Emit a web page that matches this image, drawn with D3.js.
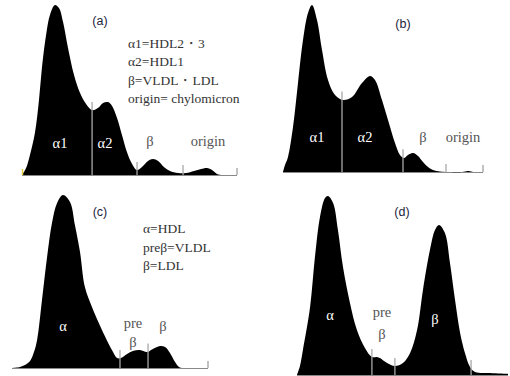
<!DOCTYPE html>
<html>
<head>
<meta charset="utf-8">
<script src="https://cdn.jsdelivr.net/npm/d3@7"></script>
<style>
body { margin: 0; background: #fff; }
</style>
</head>
<body>
<script>
/* Densitometry scans, mobility 0-100 (left = anode), density in % of tallest peak */

var aMobility = [0, 1.9, 3.7, 6.0, 7.9, 9.3, 11.2, 13.0, 15.3, 17.2, 19.1, 21.4, 24.2, 27.0, 29.8, 32.6, 35.3, 37.7, 40.0, 41.9, 44.2, 46.5, 48.8, 51.2, 53.5, 55.8, 58.6, 60.9, 63.3, 66.0, 68.8, 72.6, 76.3, 80.0, 83.3, 86.0, 88.4, 90.7, 93.0];
var aDensity  = [0, 4.1, 11.8, 24.7, 44.1, 63.5, 82.4, 94.1, 100, 98.2, 90, 74.7, 58.8, 48.2, 41.8, 38.2, 39.4, 42.4, 42.9, 40.6, 33.5, 23.5, 13.5, 6.5, 2.9, 4.7, 8.2, 9.4, 8.2, 4.7, 2.4, 1.2, 1.2, 2.4, 3.5, 4.1, 2.9, 0.6, 0];
var aDividers = [32.6, 53.5, 74.9];

var bMobility = [0, 1, 2.5, 5, 7.5, 10, 12.5, 14.5, 17, 19.5, 22.5, 26, 30, 34.5, 39.5, 43.5, 46, 49.5, 52.5, 56, 58.5, 60.5, 62.5, 65, 67.5, 70, 72.5, 75, 78.5, 82, 89.5, 92.5, 95];
var bDensity  = [0, 4.2, 9.0, 26.9, 53.3, 79.0, 95.2, 100, 91.0, 73.1, 55.1, 46.1, 43.1, 44.9, 53.3, 57.5, 55.1, 43.1, 31.1, 17.4, 10.2, 8.4, 10.2, 11.4, 9.6, 6.0, 3.0, 1.2, 0.3, 0, 0, 0.6, 0];
var bDividers = [29.5, 60, 81.5];

var cMobility = [0, 4.1, 6.6, 9.2, 11.2, 12.8, 15.3, 17.9, 20.4, 23, 26, 29.6, 32.1, 34.7, 37.2, 40.8, 45.9, 51, 53.6, 55.6, 58.7, 61.7, 65.3, 68.9, 71.9, 75.5, 78.1, 80.6, 83.2, 85.2, 86.7];
var cDensity  = [0, 0.6, 1.7, 4.0, 9.2, 16.2, 39.3, 64.2, 83.8, 95.4, 100, 96.0, 82.7, 67.1, 46.8, 35.3, 22.0, 10.4, 5.8, 5.8, 8.1, 9.8, 10.4, 9.2, 11.0, 12.7, 12.1, 8.7, 3.5, 0.6, 0];
var cDividers = [55.1, 69.4];

var dMobility = [0, 1.4, 2.8, 6.2, 8.5, 10.9, 13.3, 14.7, 17.1, 19.4, 21.8, 25.1, 28.4, 32.2, 35.5, 37.9, 39.3, 42.7, 46.4, 50.2, 53.6, 56.9, 59.7, 63.0, 65.4, 67.3, 70.1, 72.5, 74.9, 77.3, 79.6, 82.0, 84.4, 91.5, 100];
var dDensity  = [0, 5.0, 14.0, 38.0, 65.9, 88.3, 98.9, 100, 96.1, 81.0, 60.3, 40.2, 25.1, 15.1, 10.1, 10.1, 9.5, 6.7, 5.0, 6.7, 12.3, 25.1, 47.5, 69.8, 81.0, 83.8, 79.3, 62.6, 41.9, 23.5, 12.3, 4.5, 1.7, 1.1, 0.6];
var dDividers = [35.5, 46.4, 82.5];

var aLegend = ["\u03b11=HDL2\u30fb3", "\u03b12=HDL1", "\u03b2=VLDL\u30fbLDL", "origin= chylomicron"];
var cLegend = ["\u03b1=HDL", "pre\u03b2=VLDL", "\u03b2=LDL"];


/* Layout */

var width = 510;
var height = 376;

var svg = d3.select("body").append("svg")
	.attr("width", width)
	.attr("height", height);

var panels = [
	{mob: aMobility, dens: aDensity, dividers: aDividers, xr: [22, 237], yr: [175, 5], endTick: true, startTick: true,
	 title: {t: "(a)", x: 100, y: 25},
	 legend: {lines: aLegend, x: 128, y: 48, step: 18.4},
	 labels: [
		{t: "\u03b11", x: 60, y: 148, c: "#fff"},
		{t: "\u03b12", x: 105, y: 148, c: "#fff"},
		{t: "\u03b2", x: 150, y: 146, c: "#555"},
		{t: "origin", x: 208, y: 146, c: "#555"}]},
	{mob: bMobility, dens: bDensity, dividers: bDividers, xr: [283, 483], yr: [172, 5], endTick: true,
	 title: {t: "(b)", x: 403, y: 28},
	 labels: [
		{t: "\u03b11", x: 317, y: 142, c: "#fff"},
		{t: "\u03b12", x: 365, y: 142, c: "#fff"},
		{t: "\u03b2", x: 423, y: 142, c: "#555"},
		{t: "origin", x: 463, y: 142, c: "#555"}]},
	{mob: cMobility, dens: cDensity, dividers: cDividers, xr: [12, 208], yr: [368, 195], endTick: true,
	 title: {t: "(c)", x: 100, y: 216},
	 legend: {lines: cLegend, x: 143, y: 233, step: 18.5},
	 labels: [
		{t: "\u03b1", x: 63, y: 331, c: "#fff"},
		{t: "pre", x: 133, y: 328, c: "#555"},
		{t: "\u03b2", x: 133, y: 347, c: "#555"},
		{t: "\u03b2", x: 163, y: 331, c: "#555"}]},
	{mob: dMobility, dens: dDensity, dividers: dDividers, xr: [297, 508], yr: [375, 196], endTick: false,
	 title: {t: "(d)", x: 402, y: 216},
	 labels: [
		{t: "\u03b1", x: 330, y: 320, c: "#fff"},
		{t: "pre", x: 382, y: 317, c: "#555"},
		{t: "\u03b2", x: 382, y: 339, c: "#555"},
		{t: "\u03b2", x: 435, y: 324, c: "#fff"}]}
];


function densityAt(mob, dens, m) {
	var i = d3.bisectLeft(mob, m);
	if (i <= 0) return dens[0];
	if (i >= mob.length) return dens[dens.length - 1];
	var t = (m - mob[i - 1]) / (mob[i] - mob[i - 1]);
	return dens[i - 1] + t * (dens[i] - dens[i - 1]);
}


panels.forEach(function(p) {
	var x = d3.scaleLinear().domain([0, 100]).range(p.xr);
	var y = d3.scaleLinear().domain([0, 100]).range(p.yr);
	var pts = p.mob.map(function(m, i) { return [m, p.dens[i]]; });
	var g = svg.append("g");

	// baseline
	g.append("line")
		.attr("x1", x(0)).attr("x2", x(100))
		.attr("y1", y(0) + 0.5).attr("y2", y(0) + 0.5)
		.attr("stroke", "#888")
		.attr("stroke-width", 1);

	var area = d3.area()
		.x(function(d) { return x(d[0]); })
		.y0(y(0))
		.y1(function(d) { return y(d[1]); })
		.curve(d3.curveCatmullRom.alpha(0.5));

	g.append("path")
		.datum(pts)
		.attr("d", area)
		.attr("fill", "#000");

	// fraction dividers
	g.selectAll("line.div")
		.data(p.dividers)
		.enter().append("line")
			.attr("class", "div")
			.attr("x1", function(d) { return x(d); })
			.attr("x2", function(d) { return x(d); })
			.attr("y1", y(0))
			.attr("y2", function(d) { return y(densityAt(p.mob, p.dens, d)) - 8; })
			.attr("stroke", "#a8a8a8")
			.attr("stroke-width", 1.3);

	if (p.endTick) {
		g.append("line")
			.attr("x1", x(100)).attr("x2", x(100))
			.attr("y1", y(0)).attr("y2", y(0) - 7)
			.attr("stroke", "#999")
			.attr("stroke-width", 1.2);
	}
	if (p.startTick) {
		g.append("line")
			.attr("x1", x(0) + 0.5).attr("x2", x(0) + 0.5)
			.attr("y1", y(0)).attr("y2", y(0) - 6)
			.attr("stroke", "#e6d23c")
			.attr("stroke-width", 1.5);
	}

	g.append("text")
		.attr("x", p.title.x)
		.attr("y", p.title.y)
		.attr("text-anchor", "middle")
		.attr("font-family", "'Liberation Sans', sans-serif")
		.attr("font-size", 12.5)
		.attr("fill", "#1c1c3c")
		.text(p.title.t);

	if (p.legend) {
		g.selectAll("text.leg")
			.data(p.legend.lines)
			.enter().append("text")
				.attr("class", "leg")
				.attr("x", p.legend.x)
				.attr("y", function(d, i) { return p.legend.y + i * p.legend.step; })
				.attr("font-family", "'Liberation Serif', serif")
				.attr("font-size", 13.5)
				.attr("fill", "#333")
				.text(function(d) { return d; });
	}

	g.selectAll("text.lab")
		.data(p.labels)
		.enter().append("text")
			.attr("class", "lab")
			.attr("x", function(d) { return d.x; })
			.attr("y", function(d) { return d.y; })
			.attr("text-anchor", "middle")
			.attr("font-family", "'Liberation Serif', serif")
			.attr("font-size", 14.5)
			.attr("fill", function(d) { return d.c; })
			.text(function(d) { return d.t; });
});
</script>
</body>
</html>
